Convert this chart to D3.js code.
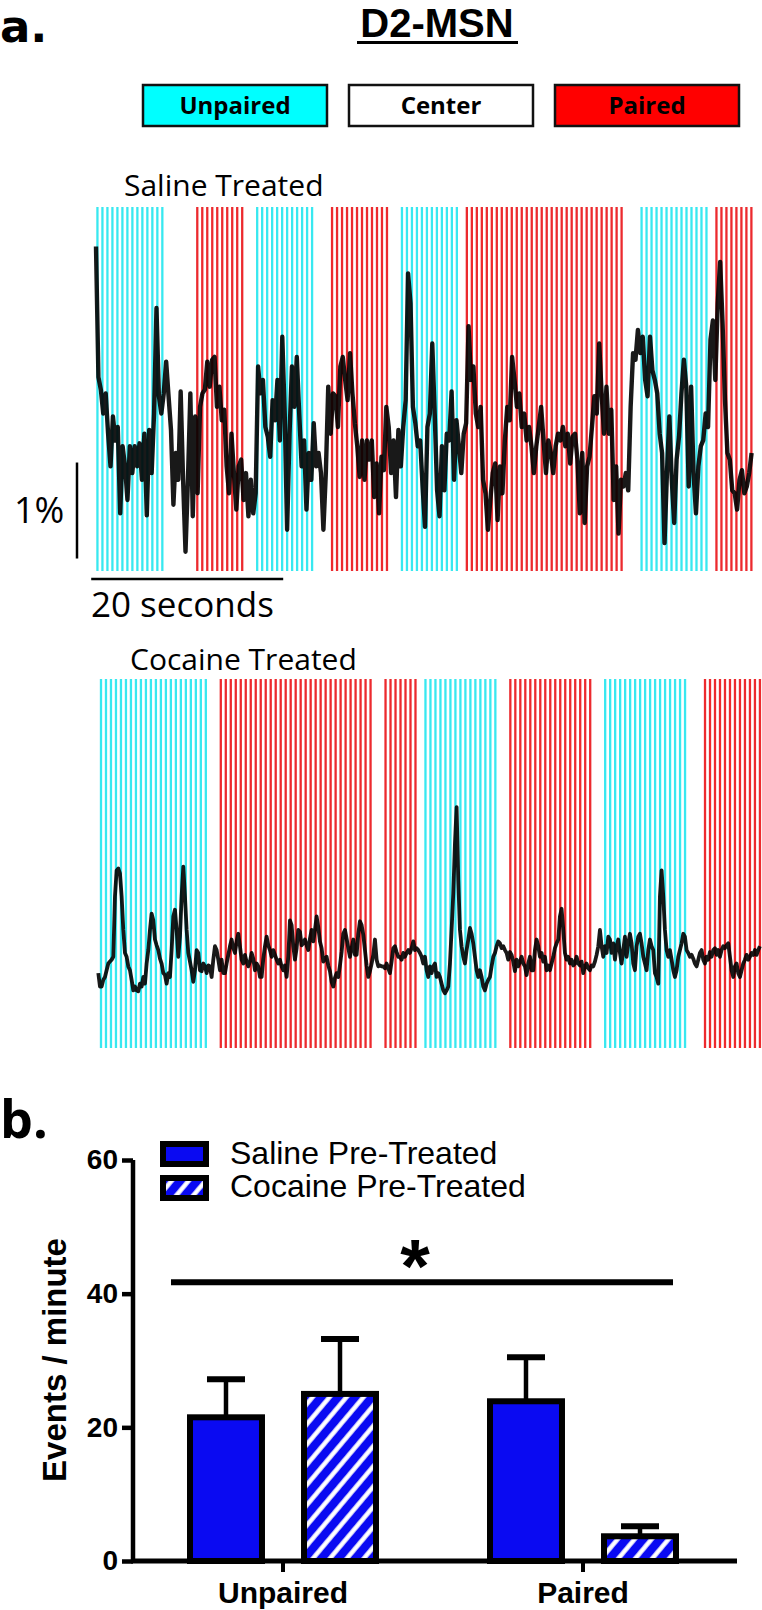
<!DOCTYPE html>
<html><head><meta charset="utf-8">
<script src="https://cdn.jsdelivr.net/npm/d3@7"></script>
<style>body{margin:0;background:#fff} svg{display:block}</style>
</head><body><svg id="c" width="762" height="1610"></svg>
<script>
// ---------- DATA ----------
const legendZones = ["Unpaired", "Center", "Paired"];

// zone boundaries (seconds) for each trace
const salineBounds = [0, 7.4, 10.1, 15.73, 16.77, 22.81, 24.58, 30.63, 31.77, 37.71, 38.54, 54.79, 56.46, 63.75, 64.48, 68.4];
const salineZones  = ["Unpaired","Center","Paired","Center","Unpaired","Center","Paired","Center","Unpaired","Center","Paired","Center","Unpaired","Center","Paired"];
const cocaineBounds = [0, 11.43, 12.47, 28.82, 29.66, 33.31, 34.03, 41.84, 42.57, 51.43, 52.47, 61.32, 62.89, 69.0];
const cocaineZones  = ["Unpaired","Center","Paired","Center","Paired","Center","Unpaired","Center","Paired","Center","Unpaired","Center","Paired"];

const stripeInterval = 0.52;   // s between video-frame stripes
const salineDt = 0.252;        // s per sample
const cocaineDt = 0.1736;      // s per sample

// dF/F (%) traces
const salineValues = [
3.38,2.02,1.89,1.64,1.85,1.43,1.09,1.61,1.36,1.50,
0.60,1.30,1.09,0.74,1.30,1.02,1.30,1.09,1.33,0.95,
1.43,0.58,1.47,1.02,1.64,2.74,1.82,1.64,1.85,2.18,
1.82,1.47,0.69,1.23,0.95,1.87,0.95,0.20,0.95,1.85,
0.57,1.61,0.81,1.71,1.85,1.89,2.18,1.92,2.20,2.23,
1.71,1.92,1.57,1.68,1.09,0.81,1.43,1.02,0.64,1.09,
1.16,0.74,1.02,0.57,0.95,0.60,0.81,2.13,1.85,1.99,
1.50,1.40,1.19,1.78,1.57,1.99,1.36,2.44,1.64,0.43,
1.43,2.13,1.71,2.23,1.64,1.09,1.36,0.64,1.23,0.95,
1.54,1.09,1.23,1.02,0.43,1.02,1.92,1.43,1.85,1.82,
1.50,2.13,2.23,1.99,1.78,2.27,1.85,1.54,1.30,0.98,
1.36,0.95,1.36,1.16,1.36,0.77,1.12,0.60,1.19,1.05,
1.71,1.50,1.02,1.36,0.77,1.47,1.09,1.50,1.78,3.10,
2.79,1.71,1.54,1.30,1.36,0.88,0.46,1.50,1.64,2.37,
1.64,0.84,0.57,1.30,0.84,1.43,1.36,1.87,0.95,1.57,
1.30,1.02,1.43,1.54,2.55,1.99,2.13,1.64,1.50,1.71,
0.95,0.81,0.43,0.74,1.02,1.12,0.53,1.09,0.81,1.36,
1.71,1.57,2.23,1.99,1.71,1.85,1.50,1.64,1.36,1.50,
1.30,1.02,1.30,1.50,1.71,1.36,1.02,1.36,1.23,1.02,
1.30,1.43,1.36,1.50,1.30,1.43,1.12,1.40,1.43,1.16,
0.60,1.23,0.50,1.09,1.19,1.50,1.82,1.64,2.37,1.85,
1.43,1.92,1.43,1.68,0.74,1.09,0.39,0.95,0.88,1.02,
0.84,1.71,2.27,2.20,2.51,2.27,2.44,1.99,1.82,2.44,
2.09,1.99,1.85,1.43,1.23,0.29,1.02,1.61,0.95,0.50,
1.16,1.40,1.85,2.20,1.92,0.88,1.92,1.02,0.60,1.09,
1.30,1.36,1.64,1.50,2.41,2.61,1.99,2.79,3.22,2.58,
1.78,1.23,1.16,0.84,0.81,0.64,0.95,1.05,0.81,0.88,
1.02,1.23];

const cocaineValues = [
0.78,0.64,0.64,0.71,0.74,0.81,0.88,0.90,0.92,0.95,
1.58,1.85,1.87,1.82,1.58,1.23,0.99,0.95,0.85,0.81,
0.71,0.60,0.64,0.60,0.59,0.67,0.64,0.74,0.67,0.88,
1.02,1.23,1.40,1.33,1.13,1.07,1.02,0.93,0.88,0.78,
0.76,0.67,0.78,0.74,1.02,1.37,1.44,1.23,0.95,1.16,
1.58,1.89,1.58,1.23,0.99,0.90,0.81,0.69,0.81,1.02,
0.99,0.81,0.80,0.88,0.85,0.78,0.86,0.85,0.74,0.92,
1.06,1.02,0.92,0.81,0.92,0.78,0.78,0.88,0.97,1.06,
1.13,1.04,0.99,1.11,1.19,1.06,0.92,0.88,0.97,0.90,
0.85,0.90,0.99,0.93,0.81,0.88,0.85,0.74,0.74,0.93,
1.06,1.16,1.07,1.02,0.95,1.02,0.97,0.92,0.88,0.92,
0.85,0.81,0.86,0.74,0.95,1.33,1.28,1.06,0.92,1.04,
1.23,1.21,1.07,1.09,1.13,1.07,1.02,1.14,1.23,1.11,
1.23,1.37,1.26,1.11,1.04,0.90,0.93,0.95,0.86,0.80,
0.69,0.64,0.73,0.78,0.74,0.86,1.00,1.19,1.23,1.14,
1.04,0.95,1.04,1.13,0.97,0.97,1.19,1.32,1.28,1.18,
1.02,0.86,0.74,0.80,0.88,0.97,1.13,0.92,0.85,0.86,
0.85,0.85,0.83,0.88,0.83,0.78,0.90,1.04,1.06,1.00,
0.95,0.95,0.92,0.99,0.95,0.99,1.02,0.99,1.04,1.11,
1.02,1.04,1.02,0.99,0.95,0.88,0.95,0.81,0.74,
0.85,0.78,0.85,0.88,0.74,0.78,0.74,0.67,0.60,0.57,
0.60,0.64,0.88,1.23,1.61,2.13,2.51,1.75,1.23,1.06,
0.95,0.88,1.02,1.13,1.25,1.19,1.09,0.95,0.81,0.74,
0.81,0.74,0.64,0.60,0.67,0.71,0.74,0.85,0.95,0.99,
1.06,1.11,1.09,1.04,1.06,1.02,0.99,0.92,1.00,0.97,
0.90,0.80,0.92,0.85,0.90,0.95,0.88,0.85,0.76,0.88,
0.95,0.81,0.81,1.02,1.13,1.06,0.95,0.99,0.90,0.95,
0.81,0.86,0.81,0.88,0.95,1.04,1.09,1.13,1.37,1.45,
1.23,0.99,0.92,0.95,0.88,0.92,0.86,0.88,0.95,0.88,
0.86,0.90,0.78,0.85,0.88,0.83,0.81,0.86,0.85,0.90,
0.97,1.06,1.23,1.06,0.95,1.06,0.99,1.16,1.13,0.99,
1.09,0.92,1.06,1.13,0.99,0.88,1.02,1.16,0.95,1.09,
1.19,1.09,0.88,0.81,1.06,1.16,1.19,1.09,0.95,0.88,
0.81,1.02,1.13,1.06,1.02,0.78,0.74,0.67,1.58,1.85,
1.58,1.23,1.02,0.95,1.02,0.92,0.81,0.74,0.81,0.95,
1.02,1.09,1.19,1.16,1.02,0.99,0.95,0.97,0.93,0.88,
0.85,0.92,0.99,1.02,0.92,0.88,0.95,0.92,1.00,0.95,
1.02,1.04,0.97,1.02,0.95,1.02,1.06,1.04,1.07,1.09,
0.95,0.81,0.74,0.85,0.88,0.78,0.74,0.81,0.88,0.92,
0.97,0.92,0.95,0.99,0.97,1.02,0.97,1.02,1.06];

// bar chart
const categories = ["Unpaired", "Paired"];
const series = ["Saline Pre-Treated", "Cocaine Pre-Treated"];
const salineMeans = [21.5, 23.9];
const salineSEM   = [5.7, 6.6];
const cocaineMeans = [25.0, 3.7];
const cocaineSEM   = [8.2, 1.5];
const yTicks = [0, 20, 40, 60];
const sigLevel = 41.7;

// ---------- DRAW ----------
const svg = d3.select("#c");
const OS = "'Open Sans', 'DejaVu Sans', sans-serif";
const LS = "'Liberation Sans', Arial, sans-serif";
const zoneFill = {Unpaired: "#00ffff", Center: "#ffffff", Paired: "#ff0000"};
const stripeColor = {Unpaired: "#38e8f0", Paired: "#ec2a2e"};

// panel letters & title
svg.append("text").attr("x", 0).attr("y", 42).attr("font-family", "'DejaVu Sans', sans-serif").attr("font-weight", 700)
  .attr("font-size", 45).text("a.");
svg.append("text").attr("x", 437).attr("y", 37).attr("text-anchor", "middle").attr("font-family", LS)
  .attr("font-weight", 700).attr("font-size", 40).text("D2-MSN");
svg.append("line").attr("x1", 357).attr("x2", 518).attr("y1", 42.5).attr("y2", 42.5)
  .attr("stroke", "#000").attr("stroke-width", 3);

// top legend
const lx = d3.scaleBand().domain(legendZones).range([143, 739]).paddingInner(0.1068);
const lg = svg.append("g");
lg.selectAll("rect").data(legendZones).join("rect")
  .attr("x", d => lx(d)).attr("y", 85).attr("width", lx.bandwidth()).attr("height", 41)
  .attr("fill", d => zoneFill[d]).attr("stroke", "#111").attr("stroke-width", 2.5);
lg.selectAll("text").data(legendZones).join("text")
  .attr("x", d => lx(d) + lx.bandwidth() / 2).attr("y", 114).attr("text-anchor", "middle")
  .attr("font-family", OS).attr("font-weight", 700).attr("font-size", 24).text(d => d);

function drawTrace(opts) {
  const {bounds, zones, values, dt, x0, top, bottom, stripeStart, strokeW, label, labelX, labelY} = opts;
  const T = bounds[bounds.length - 1];
  const x = d3.scaleLinear().domain([0, T]).range([x0, x0 + T * 9.6]);
  const y = d3.scaleLinear().domain([0, 1]).range([bottom, bottom - 96]);
  const g = svg.append("g");
  const zoneAt = t => zones[Math.min(zones.length - 1, d3.bisectRight(bounds, t) - 1)];
  const stripes = d3.range(stripeStart, T, stripeInterval).filter(t => zoneAt(t) !== "Center");
  g.selectAll("line.s").data(stripes).join("line").attr("class", "s")
    .attr("x1", d => x(d)).attr("x2", d => x(d)).attr("y1", top).attr("y2", bottom)
    .attr("stroke", d => stripeColor[zoneAt(d)]).attr("stroke-width", 2.3);
  const line = d3.line().x((d, i) => x(i * dt)).y(d => y(d));
  g.append("path").datum(values).attr("d", line).attr("fill", "none")
    .attr("stroke", "#000").attr("stroke-opacity", 0.9).attr("stroke-width", strokeW)
    .attr("stroke-linejoin", "round");
  svg.append("text").attr("x", labelX).attr("y", labelY).attr("font-family", OS)
    .attr("font-size", 30).text(label);
  return {x, y};
}

const sal = drawTrace({bounds: salineBounds, zones: salineZones, values: salineValues, dt: salineDt,
  x0: 96, top: 207, bottom: 571, stripeStart: 0.15, strokeW: 4.4,
  label: "Saline Treated", labelX: 124, labelY: 196});
drawTrace({bounds: cocaineBounds, zones: cocaineZones, values: cocaineValues, dt: cocaineDt,
  x0: 98.3, top: 679, bottom: 1048, stripeStart: 0.28, strokeW: 3.8,
  label: "Cocaine Treated", labelX: 130, labelY: 670});

// scale bars
svg.append("line").attr("x1", 77).attr("x2", 77).attr("y1", sal.y(0.13)).attr("y2", sal.y(1.13))
  .attr("stroke", "#000").attr("stroke-width", 2.5);
svg.append("text").attr("x", 14).attr("y", 523).attr("font-family", OS).attr("font-size", 36).text("1%");
svg.append("line").attr("x1", sal.x(-0.5)).attr("x2", sal.x(19.5)).attr("y1", 579).attr("y2", 579)
  .attr("stroke", "#000").attr("stroke-width", 2.5);
svg.append("text").attr("x", 91).attr("y", 617).attr("font-family", OS).attr("font-size", 35).text("20 seconds");

// ---------- BAR CHART ----------
svg.append("text").attr("x", 0).attr("y", 1138).attr("font-family", OS).attr("font-weight", 700)
  .attr("font-size", 52).text("b.");

const defs = svg.append("defs");
const pat = defs.append("pattern").attr("id", "hatch").attr("patternUnits", "userSpaceOnUse")
  .attr("width", 13).attr("height", 13).attr("patternTransform", "rotate(40)");
pat.append("rect").attr("width", 13).attr("height", 13).attr("fill", "#0a0af2");
pat.append("line").attr("x1", 6.5).attr("x2", 6.5).attr("y1", -2).attr("y2", 15)
  .attr("stroke", "#fff").attr("stroke-width", 4.5);
const fills = {"Saline Pre-Treated": "#0a0af2", "Cocaine Pre-Treated": "url(#hatch)"};

const yB = d3.scaleLinear().domain([0, 60]).range([1561, 1160]);
const x0 = d3.scaleBand().domain(categories).range([133, 733]);
const x1 = d3.scaleBand().domain(series).range([-96, 96]).paddingInner(0.316);
const bw = x1.bandwidth();

const barData = [];
categories.forEach((c, i) => {
  barData.push({cat: c, s: series[0], v: salineMeans[i], e: salineSEM[i]});
  barData.push({cat: c, s: series[1], v: cocaineMeans[i], e: cocaineSEM[i]});
});
const bg = svg.append("g");
const cx = d => x0(d.cat) + x0.bandwidth() / 2 + x1(d.s);
// error bars
bg.selectAll("line.err").data(barData).join("line").attr("class", "err")
  .attr("x1", d => cx(d) + bw / 2).attr("x2", d => cx(d) + bw / 2)
  .attr("y1", d => yB(d.v)).attr("y2", d => yB(d.v + d.e))
  .attr("stroke", "#000").attr("stroke-width", 4.5);
bg.selectAll("line.cap").data(barData).join("line").attr("class", "cap")
  .attr("x1", d => cx(d) + bw / 2 - 19).attr("x2", d => cx(d) + bw / 2 + 19)
  .attr("y1", d => yB(d.v + d.e)).attr("y2", d => yB(d.v + d.e))
  .attr("stroke", "#000").attr("stroke-width", 6);
bg.selectAll("rect").data(barData).join("rect")
  .attr("x", d => cx(d) + 3).attr("width", bw - 6)
  .attr("y", d => yB(d.v)).attr("height", d => yB(0) - yB(d.v))
  .attr("fill", d => fills[d.s]).attr("stroke", "#000").attr("stroke-width", 6);

// axes
const yAxis = d3.axisLeft(yB).tickValues(yTicks).tickSize(11).tickSizeOuter(0).tickPadding(4);
const ya = svg.append("g").attr("transform", "translate(133,0)").call(yAxis);
ya.select(".domain").attr("stroke-width", 4.5).attr("d", `M0,${yB(60)}V${yB(0)}`);
ya.selectAll(".tick line").attr("stroke-width", 4.5);
ya.selectAll(".tick text").attr("font-family", LS).attr("font-weight", 700).attr("font-size", 28).attr("fill", "#000");

const xAxis = d3.axisBottom(x0).tickSize(11).tickSizeOuter(0).tickPadding(10);
const xa = svg.append("g").attr("transform", `translate(0,${yB(0)})`).call(xAxis);
xa.select(".domain").attr("stroke-width", 5).attr("d", "M131,0H737");
xa.selectAll(".tick line").attr("stroke-width", 4);
xa.selectAll(".tick text").attr("font-family", LS).attr("font-weight", 700).attr("font-size", 30).attr("fill", "#000");

svg.append("text").attr("transform", "translate(66,1360) rotate(-90)").attr("text-anchor", "middle")
  .attr("font-family", LS).attr("font-weight", 700).attr("font-size", 33).text("Events / minute");

// significance
const sigL = x0("Unpaired") + x0.bandwidth() / 2 + x1(series[0]) - 16;
const sigR = x0("Paired") + x0.bandwidth() / 2 + x1(series[1]) + bw - 6;
svg.append("line").attr("x1", sigL).attr("x2", sigR).attr("y1", yB(sigLevel)).attr("y2", yB(sigLevel))
  .attr("stroke", "#000").attr("stroke-width", 6);
svg.append("text").attr("x", (sigL + sigR) / 2 - 7).attr("y", yB(sigLevel) + 10).attr("text-anchor", "middle")
  .attr("font-family", LS).attr("font-weight", 700).attr("font-size", 76).text("*");

// legend
const leg = svg.append("g");
series.forEach((s, i) => {
  leg.append("rect").attr("x", 163).attr("y", 1144 + i * 34).attr("width", 43).attr("height", 20)
    .attr("fill", fills[s]).attr("stroke", "#000").attr("stroke-width", 6);
  leg.append("text").attr("x", 230).attr("y", 1164 + i * 33).attr("font-family", LS)
    .attr("font-size", 32).text(s);
});
</script></body></html>
